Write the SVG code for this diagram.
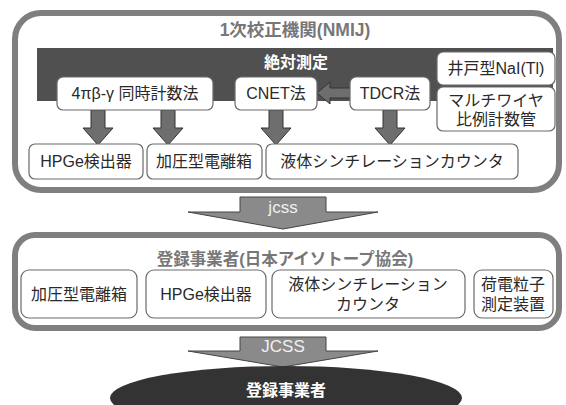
<svg xmlns="http://www.w3.org/2000/svg" width="566" height="405" viewBox="0 0 566 405">
<style>
.frame{fill:#fff;stroke:#7f7f7f;stroke-width:6}
.box{fill:#fff;stroke:#6a6a6a;stroke-width:1.2}
.t{font-family:"Liberation Sans","Noto Sans CJK JP",sans-serif;font-size:16px;fill:#2a2a2a;text-anchor:middle}
.title{font-family:"Liberation Sans","Noto Sans CJK JP",sans-serif;font-size:16.5px;font-weight:bold;fill:#777;text-anchor:middle}
.wt{font-family:"Liberation Sans","Noto Sans CJK JP",sans-serif;font-size:16px;font-weight:bold;fill:#fff;text-anchor:middle}
.arr{fill:#6e6e6e;stroke:#333;stroke-width:1}
.big{fill:#8a8a8a;stroke:#444;stroke-width:1}
.bt{font-family:"Liberation Sans","Noto Sans CJK JP",sans-serif;font-size:17px;fill:#f0f0f0;text-anchor:middle}
</style>
<rect width="566" height="405" fill="#fff"/>

<g id="primary">
<rect class="frame" x="15" y="13" width="544" height="177" rx="26"/>
<text class="title" x="295" y="36" style="font-size:17.5px">1次校正機関(NMIJ)</text>
</g>
<g id="absolute">
<rect x="37" y="48" width="516" height="53" fill="#505050"/>
<text class="wt" x="296" y="68">絶対測定</text>
</g>

<g id="connectors">
<polygon class="arr" points="91,110 105,110 105,128 113,128 98,145 83,128 91,128"/>
<polygon class="arr" points="161,110 175,110 175,128 183,128 168,145 153,128 161,128"/>
<polygon class="arr" points="269,110 283,110 283,128 291,128 276,145 261,128 269,128"/>
<polygon class="arr" points="383,110 397,110 397,128 405,128 390,145 375,128 383,128"/>
<polygon class="arr" points="352,88 330,88 330,82 317,93 330,104 330,98 352,98"/>
<polygon class="big" points="240,197 326,197 326,212 378,212 283,229 188,212 240,212"/>
<text class="bt" x="283" y="213">jcss</text>
<polygon class="big" points="240,337 326,337 326,351 378,351 283,367 188,351 240,351"/>
<text class="bt" x="283" y="352">JCSS</text>
</g>

<g id="n-4pi"><rect class="box" x="57" y="77" width="156" height="33" rx="6"/><text class="t" x="135" y="99">4πβ-γ 同時計数法</text></g>
<g id="n-cnet"><rect class="box" x="235" y="77" width="82" height="33" rx="6"/><text class="t" x="276" y="99">CNET法</text></g>
<g id="n-tdcr"><rect class="box" x="350" y="77" width="80" height="33" rx="6"/><text class="t" x="390" y="99">TDCR法</text></g>
<g id="n-nai"><rect class="box" x="437" y="52" width="118" height="33" rx="6"/><text class="t" x="496" y="74">井戸型NaI(Tl)</text></g>
<g id="n-multi"><rect class="box" x="437" y="87" width="118" height="44" rx="6"/><text class="t" x="496" y="106">マルチワイヤ</text><text class="t" x="496" y="125">比例計数管</text></g>
<g id="n-hpge1"><rect class="box" x="29" y="144" width="114" height="35" rx="6"/><text class="t" x="86" y="167">HPGe検出器</text></g>
<g id="n-ion1"><rect class="box" x="147" y="144" width="115" height="35" rx="6"/><text class="t" x="204" y="167">加圧型電離箱</text></g>
<g id="n-lsc1"><rect class="box" x="266" y="144" width="252" height="35" rx="6"/><text class="t" x="392" y="167">液体シンチレーションカウンタ</text></g>

<g id="registered">
<rect class="frame" x="15" y="235" width="544" height="93" rx="20"/>
<text class="title" x="285" y="265">登録事業者(日本アイソトープ協会)</text>
</g>
<g id="n-ion2"><rect class="box" x="21" y="270" width="116" height="48" rx="8"/><text class="t" x="79" y="300">加圧型電離箱</text></g>
<g id="n-hpge2"><rect class="box" x="146" y="270" width="120" height="48" rx="8"/><text class="t" x="206" y="300">HPGe検出器</text></g>
<g id="n-lsc2"><rect class="box" x="272" y="270" width="193" height="48" rx="8"/><text class="t" x="368" y="290">液体シンチレーション</text><text class="t" x="368" y="310">カウンタ</text></g>
<g id="n-charged"><rect class="box" x="474" y="270" width="79" height="48" rx="8"/><text class="t" x="513" y="290">荷電粒子</text><text class="t" x="513" y="310">測定装置</text></g>

<g id="n-final">
<ellipse cx="286" cy="398" rx="176" ry="32" fill="#333"/>
<text class="wt" x="286" y="396">登録事業者</text>
</g>
</svg>
